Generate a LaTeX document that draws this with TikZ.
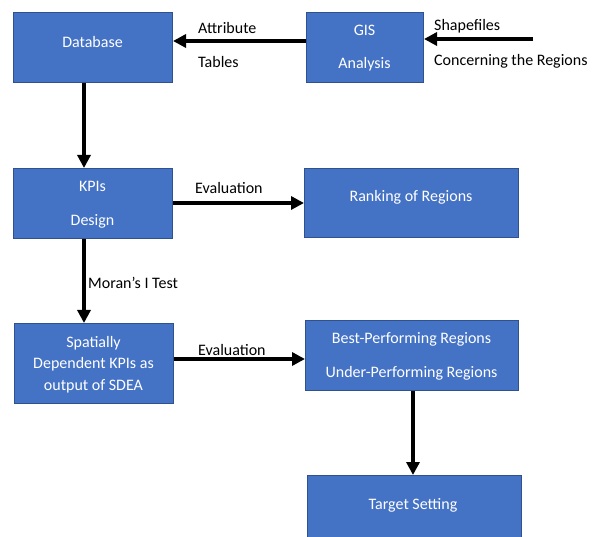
\documentclass[tikz,border=0pt]{standalone}
\usepackage{fontspec}
\setmainfont{Carlito}
\usetikzlibrary{arrows.meta}
\definecolor{boxfill}{HTML}{4472C4}
\definecolor{boxline}{HTML}{2F528F}
\tikzset{
  box/.style={draw=boxline, fill=boxfill, line width=1pt, rectangle, inner sep=0pt, anchor=north west},
  intext/.style={text=white, font=\fontsize{16}{19}\selectfont, anchor=base, inner sep=0pt},
  lbl/.style={text=black, font=\fontsize{16}{19}\selectfont, anchor=base west, inner sep=0pt},
  conn/.style={line width=3.6pt, -{Triangle[length=13pt,width=13pt]}},
}
\begin{document}
\begin{tikzpicture}[x=1pt,y=-1pt]
\useasboundingbox (0,0) rectangle (592,537);
% boxes
\node[box, minimum width=159pt, minimum height=70pt] (db) at (13,12) {};
\node[box, minimum width=117pt, minimum height=70pt] (gis) at (306,12) {};
\node[box, minimum width=159pt, minimum height=70pt] (kpi) at (13,168) {};
\node[box, minimum width=214pt, minimum height=69pt] (rank) at (304,168) {};
\node[box, minimum width=159pt, minimum height=80pt] (sp) at (14,323) {};
\node[box, minimum width=213pt, minimum height=70pt] (best) at (305,320) {};
\node[box, minimum width=214pt, minimum height=70pt] (tgt) at (307,475) {};
% box texts
\node[intext] (tdb) at (92.5,47.5) {Database};
\node[intext] (tgis1) at (364.5,35.5) {GIS};
\node[intext] (tgis2) at (364.5,68.5) {Analysis};
\node[intext] (tk1) at (92.5,191.5) {KPIs};
\node[intext] (tk2) at (92.5,225.5) {Design};
\node[intext] (trank) at (411,201.5) {Ranking of Regions};
\node[intext] (ts1) at (93.5,347.5) {Spatially};
\node[intext] (ts2) at (93.5,369) {Dependent KPIs as};
\node[intext] (ts3) at (93.5,390.5) {output of SDEA};
\node[intext] (tb1) at (411.5,343.5) {Best-Performing Regions};
\node[intext] (tb2) at (411.5,377.5) {Under-Performing Regions};
\node[intext] (ttgt) at (413,509.5) {Target Setting};
% free end
\coordinate (shp) at (533,39);
% connectors
\draw[conn] (shp) -- (gis.east |- shp);
\draw[conn] (gis.west |- 0,41) -- (db.east |- 0,41);
\draw[conn] (db.south -| 84,0) -- (kpi.north -| 84,0);
\draw[conn] (kpi.east |- 0,203) -- (rank.west |- 0,203);
\draw[conn] (kpi.south -| 84,0) -- (sp.north -| 84,0);
\draw[conn] (sp.east |- 0,359) -- (best.west |- 0,359);
\draw[conn] (best.south -| 413,0) -- (tgt.north -| 413,0);
% labels
\node[lbl] (lattr) at (198,33.5) {Attribute};
\node[lbl] (ltab) at (198,67.5) {Tables};
\node[lbl] (lshp) at (434,30.5) {Shapefiles};
\node[lbl] (lconc) at (434,65.5) {Concerning the Regions};
\node[lbl] (lev1) at (195,193.5) {Evaluation};
\node[lbl] (lmor) at (88,288.5) {Moran’s I Test};
\node[lbl] (lev2) at (198,355.5) {Evaluation};
\end{tikzpicture}
\end{document}
